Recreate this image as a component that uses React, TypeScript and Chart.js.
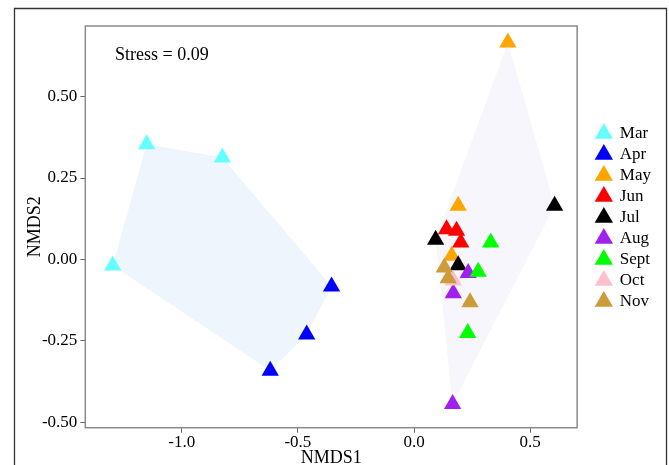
import React, { useEffect, useRef } from 'react';
import { Chart, registerables } from 'chart.js';

Chart.register(...registerables);

// ---- data ----
const MONTHS = ['Mar', 'Apr', 'May', 'Jun', 'Jul', 'Aug', 'Sept', 'Oct', 'Nov'];
const MONTH_COLORS = ['#66FFFF', '#0000FF', '#FFA500', '#FF0000', '#000000', '#A020F0', '#00FF00', '#FFC0CB', '#CD9B3B'];

// one entry per sample
const POINT_MONTH = [
  'Mar', 'Mar', 'Mar',
  'Apr', 'Apr', 'Apr',
  'May', 'May', 'May',
  'Jun', 'Jun', 'Jun',
  'Jul', 'Jul', 'Jul',
  'Aug', 'Aug', 'Aug',
  'Sept', 'Sept', 'Sept',
  'Oct',
  'Nov', 'Nov', 'Nov',
];
const POINT_NMDS1 = [
  -1.151, -0.825, -1.297,
  -0.355, -0.462, -0.619,
  0.404, 0.190, 0.162,
  0.140, 0.183, 0.201,
  0.093, 0.190, 0.605,
  0.233, 0.169, 0.166,
  0.330, 0.276, 0.231,
  0.169,
  0.130, 0.147, 0.241,
];
const POINT_NMDS2 = [
  0.354, 0.313, -0.019,
  -0.083, -0.231, -0.342,
  0.666, 0.165, 0.011,
  0.093, 0.088, 0.052,
  0.060, -0.018, 0.165,
  -0.042, -0.104, -0.444,
  0.052, -0.038, -0.226,
  -0.065,
  -0.025, -0.058, -0.132,
];

// convex hull groups
const HULL_GROUPS = [
  ['Mar', 'Apr'],
  ['May', 'Jun', 'Jul', 'Aug', 'Sept', 'Oct', 'Nov'],
];
const HULL_COLORS = ['#EEF5FD', '#F6F6FC'];

const X_TICKS = [-1.0, -0.5, 0.0, 0.5];
const Y_TICKS = [-0.5, -0.25, 0.0, 0.25, 0.5];
const X_MIN = -1.415;
const X_MAX = 0.702;
const Y_MIN = -0.517;
const Y_MAX = 0.717;

const STRESS_TEXT = 'Stress = 0.09';
const STRESS_X = -1.287;
const STRESS_Y = 0.628;

const FONT = "'Liberation Serif', 'Times New Roman', serif";

type P = { x: number; y: number };

function convexHull(pts: P[]): P[] {
  const p = pts.slice().sort((a, b) => a.x - b.x || a.y - b.y);
  const cross = (o: P, a: P, b: P) => (a.x - o.x) * (b.y - o.y) - (a.y - o.y) * (b.x - o.x);
  const lower: P[] = [];
  for (const q of p) {
    while (lower.length >= 2 && cross(lower[lower.length - 2], lower[lower.length - 1], q) <= 0) lower.pop();
    lower.push(q);
  }
  const upper: P[] = [];
  for (const q of p.slice().reverse()) {
    while (upper.length >= 2 && cross(upper[upper.length - 2], upper[upper.length - 1], q) <= 0) upper.pop();
    upper.push(q);
  }
  upper.pop();
  lower.pop();
  const h = lower.concat(upper);
  return h.concat([h[0]]);
}

function pointsFor(months: string[]): P[] {
  const out: P[] = [];
  POINT_MONTH.forEach((m, i) => {
    if (months.includes(m)) out.push({ x: POINT_NMDS1[i], y: POINT_NMDS2[i] });
  });
  return out;
}

const decorPlugin = {
  id: 'decor',
  afterDatasetsDraw(chart: any) {
    const { ctx, chartArea: a, scales } = chart;
    ctx.save();
    ctx.strokeStyle = '#8a8a8a';
    ctx.lineWidth = 1.5;
    ctx.strokeRect(a.left, a.top, a.right - a.left, a.bottom - a.top);
    ctx.fillStyle = '#000';
    ctx.font = `18px ${FONT}`;
    ctx.textAlign = 'left';
    ctx.textBaseline = 'middle';
    ctx.fillText(STRESS_TEXT, scales.x.getPixelForValue(STRESS_X), scales.y.getPixelForValue(STRESS_Y));
    ctx.restore();
  },
  afterDraw(chart: any) {
    const { ctx } = chart;
    ctx.save();
    ctx.strokeStyle = '#333';
    ctx.lineWidth = 1.3;
    ctx.beginPath();
    ctx.moveTo(14.5, 470);
    ctx.lineTo(14.5, 8.5);
    ctx.lineTo(666.5, 8.5);
    ctx.lineTo(666.5, 470);
    ctx.stroke();
    ctx.restore();
  },
};

export default function App() {
  const ref = useRef<HTMLCanvasElement | null>(null);

  useEffect(() => {
    document.body.style.margin = '0';
    const canvas = ref.current;
    if (!canvas) return;

    const monthSets = MONTHS.map((m, i) => ({
      type: 'scatter' as const,
      label: m,
      data: pointsFor([m]),
      pointStyle: 'triangle',
      pointRadius: 10,
      pointHoverRadius: 10,
      backgroundColor: MONTH_COLORS[i],
      borderColor: MONTH_COLORS[i],
      borderWidth: 0,
      order: -i,
    }));

    const hullSets = HULL_GROUPS.map((g, i) => ({
      type: 'line' as const,
      label: 'hull' + i,
      data: convexHull(pointsFor(g)),
      showLine: true,
      fill: 'shape',
      backgroundColor: HULL_COLORS[i],
      borderColor: HULL_COLORS[i],
      borderWidth: 0,
      pointRadius: 0,
      pointHoverRadius: 0,
      tension: 0,
      order: 100,
    }));

    const chart = new Chart(canvas, {
      type: 'scatter',
      data: { datasets: [...monthSets, ...hullSets] as any },
      options: {
        animation: false,
        responsive: false,
        events: [],
        layout: { padding: { left: 16, top: 26, right: 8, bottom: 0 } },
        plugins: {
          tooltip: { enabled: false },
          legend: {
            position: 'right',
            align: 'start',
            title: { display: true, text: ' ', font: { size: 10, lineHeight: 1 }, padding: { top: 85, bottom: 0 } },
            labels: {
              usePointStyle: true,
              pointStyle: 'triangle',
              boxWidth: 15,
              boxHeight: 15,
              padding: 4,
              color: '#000',
              font: { family: FONT, size: 17 },
              filter: (item: any) => item.datasetIndex < MONTHS.length,
              sort: (a: any, b: any) => a.datasetIndex - b.datasetIndex,
            },
          },
        },
        scales: {
          x: {
            type: 'linear',
            min: X_MIN,
            max: X_MAX,
            afterBuildTicks: (s: any) => { s.ticks = X_TICKS.map((v) => ({ value: v })); },
            afterFit: (s: any) => { s.height = 37.3; },
            grid: { display: true, drawOnChartArea: false, drawTicks: true, tickLength: 5, color: '#666', lineWidth: 1 },
            border: { display: false },
            ticks: { color: '#000', padding: 0, maxRotation: 0, font: { family: FONT, size: 17 }, callback: (v: any) => Number(v).toFixed(1) },
            title: { display: true, text: 'NMDS1', color: '#000', font: { family: FONT, size: 18, lineHeight: 1 }, padding: { top: 0, bottom: -2 } },
          },
          y: {
            type: 'linear',
            min: Y_MIN,
            max: Y_MAX,
            afterBuildTicks: (s: any) => { s.ticks = Y_TICKS.map((v) => ({ value: v })); },
            afterFit: (s: any) => { s.width = 69.3; },
            grid: { display: true, drawOnChartArea: false, drawTicks: true, tickLength: 5, color: '#666', lineWidth: 1 },
            border: { display: false },
            ticks: { color: '#000', padding: 3, font: { family: FONT, size: 17 }, callback: (v: any) => Number(v).toFixed(2) },
            title: { display: true, text: 'NMDS2', color: '#000', font: { family: FONT, size: 18, lineHeight: 1 }, padding: { top: 10.5, bottom: 0 } },
          },
          y2: {
            type: 'linear',
            position: 'right',
            display: true,
            grid: { display: false },
            border: { display: false },
            ticks: { display: false },
            afterFit: (s: any) => { s.width = 15.2; },
          },
        },
      },
      plugins: [decorPlugin],
    });

    return () => chart.destroy();
  }, []);

  return <canvas ref={ref} width={669} height={465} style={{ display: 'block' }} />;
}
